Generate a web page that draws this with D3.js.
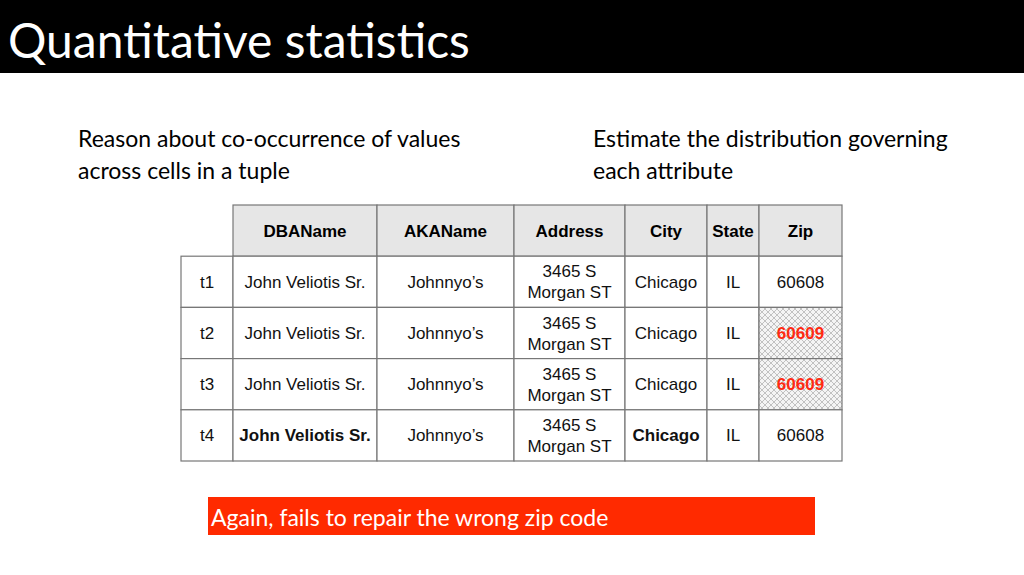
<!DOCTYPE html>
<html><head><meta charset="utf-8">
<script src="https://cdn.jsdelivr.net/npm/d3@7"></script>
<style>body{margin:0;background:#fff}svg{display:block}</style>
</head><body>
<svg width="1024" height="575"></svg>
<script>
const columns = ['', 'DBAName', 'AKAName', 'Address', 'City', 'State', 'Zip'];
const colEdges = [181, 233, 377, 514, 625, 707, 759, 842];
const tuples = ['t1', 't2', 't3', 't4'];
const dbaNames = ['John Veliotis Sr.', 'John Veliotis Sr.', 'John Veliotis Sr.', 'John Veliotis Sr.'];
const akaNames = ['Johnnyo\u2019s', 'Johnnyo\u2019s', 'Johnnyo\u2019s', 'Johnnyo\u2019s'];
const addresses = ['3465 S|Morgan ST', '3465 S|Morgan ST', '3465 S|Morgan ST', '3465 S|Morgan ST'];
const cities = ['Chicago', 'Chicago', 'Chicago', 'Chicago'];
const states = ['IL', 'IL', 'IL', 'IL'];
const zips = ['60608', '60609', '60609', '60608'];
const wrongZip = [false, true, true, false];
const boldRow = [false, false, false, true];

const svg = d3.select('svg');
const defs = svg.append('defs');
const pat = defs.append('pattern').attr('id', 'hatch').attr('patternUnits', 'userSpaceOnUse')
  .attr('width', 6).attr('height', 6);
pat.append('rect').attr('width', 6).attr('height', 6).attr('fill', '#f4f4f4');
pat.append('path').attr('d', 'M0,0L6,6M6,0L0,6').attr('stroke', '#aaa').attr('stroke-width', 0.7);

// title bar
svg.append('rect').attr('width', 1024).attr('height', 73).attr('fill', '#000');
svg.append('text').attr('x', 8).attr('y', 58).attr('fill', '#fff')
  .style('font', '48px Lato').text('Quantitative statistics');

const body = svg.append('g').style('font', '23px Lato').attr('fill', '#000');
body.append('text').attr('x', 78).attr('y', 147).text('Reason about co-occurrence of values');
body.append('text').attr('x', 78).attr('y', 179).text('across cells in a tuple');
body.append('text').attr('x', 593).attr('y', 147).text('Estimate the distribution governing');
body.append('text').attr('x', 593).attr('y', 179).text('each attribute');

const y = d3.scaleBand().domain(['head', ...tuples]).range([205, 461]);
const colX = i => colEdges[i], colW = i => colEdges[i + 1] - colEdges[i];

const rows = tuples.map((t, i) => [t, dbaNames[i], akaNames[i], addresses[i], cities[i], states[i], zips[i]]);
const tbl = svg.append('g').style('font-family', 'Liberation Sans, Arial, sans-serif');

// header
columns.forEach((c, i) => {
  if (i === 0) return;
  tbl.append('rect').attr('x', colX(i)).attr('y', y('head')).attr('width', colW(i)).attr('height', y.bandwidth())
    .attr('fill', '#e6e6e6').attr('stroke', '#777').attr('stroke-width', 1.2);
  tbl.append('text').attr('x', colX(i) + colW(i) / 2).attr('y', y('head') + y.bandwidth() / 2 + 6)
    .attr('text-anchor', 'middle').style('font-size', '17px').style('font-weight', 'bold').text(c);
});

rows.forEach((r, ri) => {
  const yy = y(tuples[ri]);
  r.forEach((v, ci) => {
    const isZip = ci === 6 && wrongZip[ri];
    tbl.append('rect').attr('x', colX(ci)).attr('y', yy).attr('width', colW(ci)).attr('height', y.bandwidth())
      .attr('fill', isZip ? 'url(#hatch)' : '#fff').attr('stroke', '#777').attr('stroke-width', 1.2);
    const bold = boldRow[ri] && (ci === 1 || ci === 4);
    const lines = v.split('|');
    lines.forEach((ln, li) => {
      tbl.append('text').attr('x', colX(ci) + colW(ci) / 2)
        .attr('y', yy + y.bandwidth() / 2 + 6 + (li - (lines.length - 1) / 2) * 21)
        .attr('text-anchor', 'middle').style('font-size', '17px')
        .style('font-weight', bold || isZip ? 'bold' : 'normal')
        .attr('fill', isZip ? '#ff2a12' : '#111').text(ln);
    });
  });
});

svg.append('rect').attr('x', 208).attr('y', 497).attr('width', 607).attr('height', 38).attr('fill', '#ff2a00');
svg.append('text').attr('x', 211).attr('y', 526).attr('fill', '#fff').style('font', '23px Lato')
  .text('Again, fails to repair the wrong zip code');
</script>
</body></html>
